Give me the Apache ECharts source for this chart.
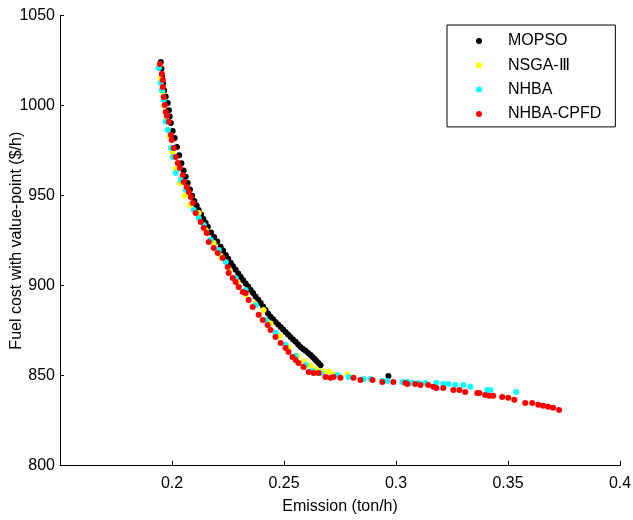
<!DOCTYPE html>
<html>
<head>
<meta charset="utf-8">
<script src="https://cdn.jsdelivr.net/npm/echarts@6/dist/echarts.min.js"></script>
<style>html,body{margin:0;padding:0;background:#fff;}#c{width:633px;height:520px;}</style>
</head>
<body>
<div id="c"></div>
<script>
const seriesNames = ['MOPSO', 'NSGA-\u2162', 'NHBA', 'NHBA-CPFD'];
const xTicks = [0.2, 0.25, 0.3, 0.35, 0.4];
const yTicks = [800, 850, 900, 950, 1000, 1050];

const mopso = [[0.1950,1024.3],[0.1953,1020.5],[0.1956,1016.5],[0.1960,1012.5],[0.1965,1008.5],[0.1972,1005],[0.1981,1001.5],[0.1986,997.5],[0.1990,994],[0.1995,990.4],[0.2003,986],[0.2012,982],[0.2022,977],[0.2032,972.5],[0.2042,968],[0.2052,964],[0.2061,960.5],[0.2070,957.1],[0.2080,953.5],[0.2090,950],[0.2100,947],[0.2110,944.5],[0.2119,942.1],[0.2130,939.5],[0.2140,937],[0.2150,935],[0.2160,932.7],[0.2174,929.5],[0.2188,927],[0.2202,924.5],[0.2217,921.6],[0.2228,919.5],[0.2240,917],[0.2251,915],[0.2262,912.7],[0.2273,910.8],[0.2284,908.8],[0.2296,906.8],[0.2307,904.9],[0.2318,903],[0.2329,901.2],[0.2340,899.5],[0.2351,897.7],[0.2362,895.9],[0.2373,894],[0.2385,892.2],[0.2396,890.4],[0.2407,888.5],[0.2418,886.5],[0.2429,884.6],[0.2440,882.7],[0.2451,881.3],[0.2462,879.9],[0.2474,878.5],[0.2485,877.1],[0.2496,875.7],[0.2507,874.3],[0.2518,872.9],[0.2529,871.5],[0.2540,870.1],[0.2552,868.8],[0.2563,867.4],[0.2574,866.0],[0.2585,864.9],[0.2596,863.8],[0.2608,862.6],[0.2619,861.5],[0.2628,860.4],[0.2637,859.3],[0.2645,858.2],[0.2654,857.1],[0.2663,855.8],[0.2966,849.9]];

const nsga3 = [[0.1944,1022],[0.1950,1015],[0.1957,1008],[0.1965,1000],[0.1975,992],[0.1988,983],[0.2002,974],[0.2018,965],[0.2035,957],[0.2055,950],[0.2080,945],[0.2119,940.4],[0.2150,931],[0.2186,923.7],[0.2220,916],[0.2255,909],[0.2290,902],[0.2330,895],[0.2370,890],[0.2409,886.5],[0.2440,879],[0.2480,872],[0.2520,866],[0.2560,861],[0.2590,858],[0.2619,855.7],[0.2645,853.5],[0.2672,852.4],[0.2699,852.4],[0.2721,850.7],[0.2783,850.7]];

const nhba = [[0.1941,1020.9],[0.1950,1012.6],[0.1955,1008.7],[0.1963,1003.2],[0.1972,991.1],[0.1981,986.5],[0.1995,976.5],[0.2004,971.5],[0.2017,962.6],[0.2039,958.7],[0.2062,953.2],[0.2097,942.1],[0.2119,937.6],[0.2142,933.7],[0.2173,925.4],[0.2209,919.8],[0.2240,913.2],[0.2284,904.3],[0.2329,897.6],[0.2374,889.3],[0.2418,881.0],[0.2463,873.7],[0.2507,867.1],[0.2552,861.0],[0.2597,856.0],[0.2627,852.6],[0.2663,851.5],[0.2739,850.4],[0.2788,849.3],[0.2855,848.2],[0.2886,848.2],[0.2939,847.1],[0.2962,847.1],[0.3029,846.5],[0.3051,846.5],[0.3073,846.0],[0.3100,846.0],[0.3131,846.0],[0.3180,846.0],[0.3211,845.4],[0.3234,845.4],[0.3265,844.9],[0.3300,844.9],[0.3332,843.8],[0.3407,842.1],[0.3421,842.1],[0.3537,841.0]];

const nhbaCpfd = [[0.1946,1023.2],[0.1955,1017.6],[0.1959,1014.3],[0.1959,1010.4],[0.1963,1004.8],[0.1968,1000.4],[0.1972,996.5],[0.1977,994.4],[0.1986,991.1],[0.1995,983.7],[0.1999,981.0],[0.2008,976.5],[0.2017,971.5],[0.2026,968.2],[0.2035,965.4],[0.2048,961.5],[0.2053,957.6],[0.2066,954.8],[0.2075,952.1],[0.2084,949.3],[0.2093,945.9],[0.2106,940.4],[0.2128,935.4],[0.2142,932.1],[0.2155,929.3],[0.2164,924.3],[0.2186,921.0],[0.2204,918.2],[0.2226,915.4],[0.2249,910.4],[0.2253,907.1],[0.2271,904.3],[0.2284,902.1],[0.2298,899.3],[0.2316,896.5],[0.2329,896.0],[0.2342,892.1],[0.2360,888.2],[0.2387,883.8],[0.2405,881.0],[0.2427,878.2],[0.2440,875.4],[0.2462,871.5],[0.2485,868.2],[0.2507,865.4],[0.2520,863.2],[0.2538,860.4],[0.2552,858.7],[0.2565,857.1],[0.2587,854.8],[0.2610,852.1],[0.2632,851.5],[0.2654,851.5],[0.2685,849.3],[0.2708,848.8],[0.2721,849.3],[0.2752,848.8],[0.2810,848.8],[0.2841,847.6],[0.2895,847.6],[0.2939,846.5],[0.2988,846.5],[0.3042,846.0],[0.3051,845.4],[0.3086,845.4],[0.3109,844.9],[0.3144,844.9],[0.3167,843.8],[0.3180,843.2],[0.3211,843.2],[0.3256,842.1],[0.3283,842.1],[0.3309,841.0],[0.3363,840.4],[0.3372,840.4],[0.3398,839.3],[0.3416,838.8],[0.3434,838.8],[0.3474,838.2],[0.3501,837.7],[0.3528,836.6],[0.3577,834.9],[0.3608,834.9],[0.3635,833.8],[0.3657,833.3],[0.3679,832.7],[0.3701,832.2],[0.3728,831.0]];

const colors = ['#000000', '#ffff00', '#00ffff', '#ff0000'];
const dataSets = [mopso, nsga3, nhba, nhbaCpfd];
const FONT = 'Liberation Sans, Arial, sans-serif';

const chart = echarts.init(document.getElementById('c'), null, {renderer: 'canvas'});
chart.setOption({
  animation: false,
  backgroundColor: '#ffffff',
  textStyle: {fontFamily: FONT, color: '#000'},
  grid: {left: 60, right: 13, top: 15.7, bottom: 54.3, containLabel: false, outerBoundsMode: 'none'},
  legend: {
    orient: 'vertical',
    left: 447, top: 25,
    padding: [7, 14, 4, 29],
    itemGap: 6.3,
    itemWidth: 48, itemHeight: 6,
    borderColor: '#000', borderWidth: 1, borderRadius: 0,
    backgroundColor: '#fff',
    icon: 'circle',
    textStyle: {fontFamily: FONT, fontSize: 16, color: '#000', lineHeight: 18},
    data: seriesNames
  },
  xAxis: {
    type: 'value', min: 0.15, max: 0.4, interval: 0.05,
    name: 'Emission (ton/h)', nameLocation: 'middle', nameGap: 33, nameMoveOverlap: false,
    nameTextStyle: {fontFamily: FONT, fontSize: 16, color: '#000'},
    axisLine: {show: true, lineStyle: {color: '#000', width: 1}},
    axisTick: {show: true, inside: true, length: 5, lineStyle: {color: '#000'},
      customValues: xTicks},
    axisLabel: {fontFamily: FONT, fontSize: 16, color: '#000', margin: 10,
      customValues: xTicks, formatter: v => String(+v.toFixed(2))},
    splitLine: {show: false}
  },
  yAxis: {
    type: 'value', min: 800, max: 1050, interval: 50,
    name: 'Fuel cost with value-point ($/h)', nameLocation: 'middle', nameGap: 35, nameMoveOverlap: false,
    nameTextStyle: {fontFamily: FONT, fontSize: 16, color: '#000'},
    axisLine: {show: true, lineStyle: {color: '#000', width: 1}},
    axisTick: {show: true, inside: true, length: 4, lineStyle: {color: '#000'},
      customValues: yTicks},
    axisLabel: {fontFamily: FONT, fontSize: 16, color: '#000', margin: 5,
      customValues: yTicks, formatter: v => String(v)},
    splitLine: {show: false}
  },
  series: seriesNames.map((n, i) => ({
    name: n, type: 'scatter', data: dataSets[i],
    symbol: 'circle', symbolSize: 6,
    itemStyle: {color: colors[i], opacity: 1},
    z: 2 + i
  }))
});
</script>
</body>
</html>
